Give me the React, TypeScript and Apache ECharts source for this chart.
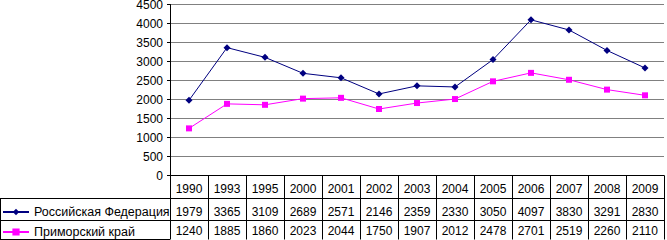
import React, { useEffect, useRef } from "react";
import * as echarts from "echarts";

const years = ["1990", "1993", "1995", "2000", "2001", "2002", "2003", "2004", "2005", "2006", "2007", "2008", "2009"];
const russia = [1979, 3365, 3109, 2689, 2571, 2146, 2359, 2330, 3050, 4097, 3830, 3291, 2830];
const primorsky = [1240, 1885, 1860, 2023, 2044, 1750, 1907, 2012, 2478, 2701, 2519, 2260, 2110];
const seriesNames = ["Российская Федерация", "Приморский край"];

const FONT = "'Liberation Sans', Arial, sans-serif";
const FS = 12;

export default function App() {
  const ref = useRef<HTMLDivElement>(null);
  useEffect(() => {
    if (!ref.current) return;
    const chart = echarts.init(ref.current, null, { renderer: "svg" });
    const lbl = { fontFamily: FONT, fontSize: FS, color: "#000" };
    const tableAxis = (data: string[], offset: number, margin: number, showLabel: boolean) => ({
      type: "category",
      data,
      position: "bottom",
      offset,
      boundaryGap: true,
      axisLine: { show: true, lineStyle: { color: "#000", width: 1 } },
      axisTick: { show: false },
      axisLabel: { show: showLabel, interval: 0, margin, ...lbl },
      splitLine: { show: false },
    });
    const legendBase = {
      left: 2,
      padding: 0,
      itemWidth: 26,
      itemGap: 0,
      itemTextGap: 4,
      selectedMode: false,
      textStyle: { ...lbl, fontSize: 12.5 },
    };
    chart.setOption({
      animation: false,
      backgroundColor: "#fff",
      textStyle: { fontFamily: FONT },
      grid: { left: 170, right: 3, top: 4.5, bottom: 64.5, containLabel: false, outerBoundsMode: "none" },
      legend: [
        { ...legendBase, data: [seriesNames[0]], top: 205.5, itemHeight: 8 },
        { ...legendBase, data: [seriesNames[1]], top: 225.5, itemHeight: 9 },
      ],
      xAxis: [
        {
          type: "category",
          data: years,
          position: "bottom",
          boundaryGap: true,
          axisLine: { show: true, lineStyle: { color: "#000", width: 1 } },
          axisTick: { show: true, interval: 0, length: 64, lineStyle: { color: "#000", width: 1 } },
          axisLabel: { interval: 0, margin: 7, ...lbl },
          splitLine: { show: false },
        },
        tableAxis(russia.map(String), 23, 7, true),
        tableAxis(primorsky.map(String), 45, 4.5, true),
        tableAxis(years, 64.5, 0, false),
      ],
      yAxis: {
        type: "value",
        min: 0,
        max: 4500,
        interval: 500,
        axisLine: { show: true, lineStyle: { color: "#000", width: 1 } },
        axisTick: { show: true, length: 3, lineStyle: { color: "#000" } },
        axisLabel: { margin: 7, formatter: (v: number) => String(v), ...lbl },
        splitLine: { show: true, lineStyle: { color: "#808080", width: 1 } },
      },
      graphic: [
        { type: "line", shape: { x1: 0, y1: 198.5, x2: 170, y2: 198.5 }, style: { stroke: "#000", lineWidth: 1 } },
        { type: "line", shape: { x1: 0, y1: 220.5, x2: 170, y2: 220.5 }, style: { stroke: "#000", lineWidth: 1 } },
        { type: "line", shape: { x1: 0, y1: 239.5, x2: 170, y2: 239.5 }, style: { stroke: "#000", lineWidth: 1 } },
        { type: "line", shape: { x1: 0.5, y1: 198.5, x2: 0.5, y2: 240 }, style: { stroke: "#000", lineWidth: 1 } },
      ],
      series: [
        {
          name: seriesNames[0],
          type: "line",
          data: russia,
          symbol: "diamond",
          symbolSize: 7,
          itemStyle: { color: "#000080" },
          lineStyle: { color: "#000080", width: 1 },
        },
        {
          name: seriesNames[1],
          type: "line",
          data: primorsky,
          symbol: "rect",
          symbolSize: 6,
          itemStyle: { color: "#FF00FF" },
          lineStyle: { color: "#FF00FF", width: 1 },
        },
      ],
    });
    return () => chart.dispose();
  }, []);
  return <div ref={ref} style={{ position: "fixed", left: 0, top: 0, width: 667, height: 240 }} />;
}
